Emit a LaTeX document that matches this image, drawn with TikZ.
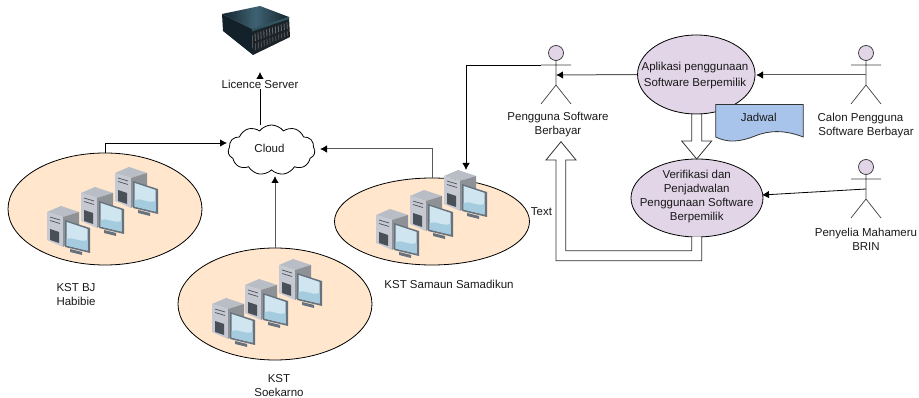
\documentclass[tikz,border=0pt]{standalone}
\usepackage{fontspec}
\setmainfont{Liberation Sans}
\usetikzlibrary{shapes.geometric,shapes.symbols,arrows.meta,calc}
\definecolor{peach}{HTML}{FFE6CC}
\definecolor{lilac}{HTML}{E1D5E7}
\definecolor{docblue}{HTML}{A9C4EB}
\definecolor{twtop}{HTML}{B9BDC6}
\definecolor{twl}{HTML}{C6C9D2}
\definecolor{twr}{HTML}{8E9196}
\definecolor{twd}{HTML}{4A5058}
\definecolor{bez}{HTML}{66727E}
\definecolor{scr}{HTML}{CFE5F0}
\definecolor{scrb}{HTML}{A5CBDE}
\definecolor{srvtopa}{HTML}{3E6272}
\definecolor{srvtopb}{HTML}{14242E}
\definecolor{srvl}{HTML}{13212B}
\definecolor{srvf}{HTML}{1C2226}
\definecolor{srvs}{HTML}{5E6A70}
\definecolor{srvt}{HTML}{2E5562}
\tikzset{
  lbl/.style={font=\fontsize{11.5}{14}\selectfont,align=center,inner sep=0pt,text=black!90},
  site/.style={ellipse,draw=black,line width=0.8pt,fill=peach,inner sep=0pt},
  usecase/.style={ellipse,draw=black,line width=0.8pt,fill=lilac,inner sep=0pt,font=\fontsize{11.5}{14}\selectfont,align=center,text=black!90},
  head/.style={circle,draw=black!80,line width=0.7pt,fill=lilac,minimum size=15pt,inner sep=0pt},
  limb/.style={draw=black!75,line width=0.7pt},
  conn/.style={draw=black,line width=0.8pt,-{Latex[length=7pt,width=7.5pt]}},
  conng/.style={draw=black!65,line width=1pt,-{Latex[length=7pt,width=7.5pt,fill=black,black]}},
  block/.style={draw=black!80,line width=0.8pt,fill=white,line join=miter},
}
\newcommand{\compunit}[2]{%
\begin{scope}[shift={(#1,#2)}]
  \fill[twtop] (0,0)--(14,-6)--(32,0)--(16,5)--cycle;
  \fill[twl] (0,0)--(16,5)--(16,35)--(0,28)--cycle;
  \fill[twr] (16,5)--(32,0)--(32,24)--(16,35)--cycle;
  \draw[twd,line width=.7pt] (3,5)--(13,8) (3,8.5)--(13,11.5);
  \fill[twd] (3,17)--(12,20)--(12,31)--(3,28)--cycle;
  \fill[bez] (23,37)--(35,40)--(35,43)--(23,40)--cycle;
  \fill[bez] (18,8)--(43,16)--(43,41)--(18,35)--cycle;
  \fill[scr] (19.5,10)--(40.5,17)--(40.5,38.5)--(19.5,33.5)--cycle;
  \fill[scrb] (19.5,27)..controls (26,24) and (32,31) .. (40.5,28)--(40.5,38.5)--(19.5,33.5)--cycle;
\end{scope}}
\newcommand{\actor}[3]{% name, x, head y
  \node[head] (#1) at (#2,#3) {};
  \coordinate (#1-l) at (#2-15,#3+12);
  \coordinate (#1-r) at (#2+15,#3+12);
  \coordinate (#1-w) at (#2,#3+32);
  \coordinate (#1-fl) at (#2-15,#3+51);
  \coordinate (#1-fr) at (#2+15,#3+51);
  \path[limb] (#1.south)--(#1-w) (#1-l)--(#1-r) (#1-fl)--(#1-w)--(#1-fr);
}
\begin{document}
\begin{tikzpicture}[x=1pt,y=-1pt]
\useasboundingbox (0,0) rectangle (919,398);
% server
\shade[left color=srvtopb,right color=srvtopb,middle color=srvtopa] (222,14)--(260,6)--(289,17)--(252,29)--cycle;
\fill[srvl] (222,14)--(252,29)--(253,55)--(223,31)--cycle;
\fill[srvf] (252,29)--(289,17)--(290,37)--(253,55)--cycle;
\fill[srvt] (252,29)--(289,17)--(289,19)--(252,31.5)--cycle;
\foreach \i in {0,...,11}{
  \draw[srvs,line width=.9pt] ({255+\i*2.9},{33.5-\i*1}) -- ({255.4+\i*2.9},{41-\i*1.1});
  \draw[srvs!80!black,line width=.9pt] ({255.4+\i*2.9},{43.5-\i*1.1}) -- ({255.6+\i*2.9},{50-\i*1.3});
}
% cloud
\node[cloud,cloud puffs=11,cloud puff arc=105,aspect=1.74,draw=black,line width=.8pt,fill=white,minimum width=87pt,minimum height=50pt,inner sep=0pt] (cl) at (271.5,150) {};
\node[lbl] at (269.5,148) {Cloud};
% sites
\node[site,minimum width=194pt,minimum height=112pt] (e1) at (105,209) {};
\node[site,minimum width=194pt,minimum height=112pt] (e2) at (275,304) {};
\node[site,minimum width=195pt,minimum height=87pt] (e3) at (432,221.5) {};
\compunit{47}{212}\compunit{81}{193}\compunit{115}{173}
\compunit{212}{304}\compunit{245}{285}\compunit{279}{265}
\compunit{376}{215}\compunit{410}{196}\compunit{444}{176}
% licence server
\coordinate (lic) at (260,72);
\coordinate (clt) at (260,125.5);
\draw[conn] (clt)--(lic);
\node[lbl,fill=white,inner ysep=1pt] (lics) at (260,84) {Licence Server};
% site connectors
\coordinate (c1) at (227,143);
\coordinate (c3) at (320,149);
\coordinate (e3t) at (432,178);
\coordinate (e1t) at (105,153);
\coordinate (e2t) at (275,248);
\coordinate (c2) at (275,176);
\draw[conn] (e1t)|-(c1);
\draw[conng] (e3t)|-(c3);
\draw[conng] (e2t)--(c2);
% labels
\node[lbl] at (76,294.5) {KST BJ\\Habibie};
\node[lbl] at (279,386) {KST\\Soekarno};
\node[lbl] at (449,284) {KST Samaun Samadikun};
\node[lbl] at (541.5,211.5) {Text};
% actors
\actor{pg}{556}{53}
\actor{cp}{866}{53}
\actor{py}{866}{167}
\node[lbl] at (558,125) {Pengguna Software\\Berbayar};
\node[lbl] at (866,125) {Calon Pengguna\hspace*{11pt}\strut\\Software Berbayar};
\node[lbl] at (866,239) {Penyelia Mahameru\\BRIN};
% use cases
\node[usecase,minimum width=117.5pt,minimum height=79pt] (a) at (696.3,74.5) {};
\node[lbl] at (695,76) {Aplikasi penggunaan\\[2pt]Software Berpemilik};
\node[usecase,minimum width=132pt,minimum height=78pt] (b) at (697,198) {};
\node[lbl] at (696.7,197) {Verifikasi dan\\Penjadwalan\\Penggunaan Software\\Berpemilik};
% document
\path[draw=black!80,line width=.8pt,fill=docblue] (715.7,104.5)--(803.3,104.5)--(803.3,137) .. controls (785,130) and (770,130) .. (755,136) .. controls (740,142) and (728,143) .. (715.7,137)--cycle;
\node[lbl] (jd) at (758.7,117) {Jadwal};
% connectors
\coordinate (pgm) at (556,75);
\coordinate (cpm) at (866,75);
\coordinate (am) at (756,75);
\draw[conng] (a.west)--(pgm);
\draw[conng] (cpm)--(am);
\coordinate (pym) at (866,189);
\coordinate (bm) at (762,195);
\draw[conn] (pym)--(bm);
\coordinate (e3u) at (466,170);
\draw[conn] (pg-l)-|(e3u);
% block arrows
\path[block] (691.7,114)--(701.7,114)--(701.7,141)--(711.7,141)--(696.7,159)--(681.7,141)--(691.7,141)--cycle;
\path[block] (701.7,236.7)--(701.7,260.7)--(556,260.7)--(556,160)--(546,160)--(561,141.7)--(576,160)--(565.7,160)--(565.7,250.7)--(691.7,250.7)--(691.7,236.7);
\end{tikzpicture}
\end{document}
